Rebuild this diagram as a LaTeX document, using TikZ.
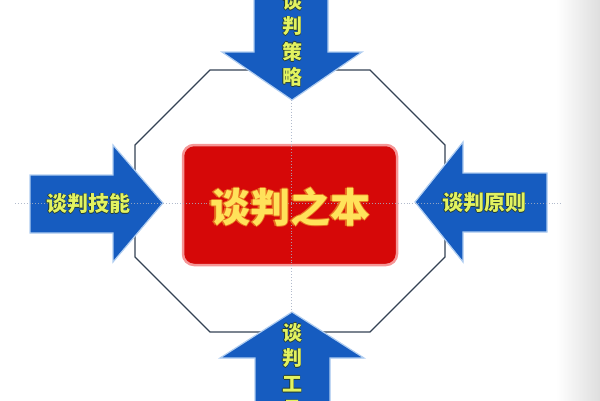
\documentclass[tikz,border=0pt]{standalone}
\usepackage{fontspec}
\setmainfont{Noto Sans CJK SC}
\definecolor{arrowblue}{RGB}{22,92,192}
\definecolor{arrowedge}{RGB}{175,205,240}
\definecolor{boxred}{RGB}{214,8,8}
\definecolor{boxglow}{RGB}{245,150,150}
\definecolor{labelyellow}{RGB}{226,242,96}
\definecolor{labeledge}{RGB}{35,60,50}
\definecolor{titleyellow}{RGB}{255,226,90}
\definecolor{titleedge}{RGB}{230,110,30}
\definecolor{octline}{RGB}{52,66,84}
\definecolor{guide}{RGB}{165,175,195}
\newcommand\olt[4]{% #1 offset, #2 outline colour, #3 fill colour, #4 text
  \leavevmode\rlap{\kern-#1\textcolor{#2}{#4}}\rlap{\kern#1\textcolor{#2}{#4}}%
  \rlap{\raisebox{#1}{\textcolor{#2}{#4}}}\rlap{\raisebox{-#1}{\textcolor{#2}{#4}}}%
  \textcolor{#3}{#4}}
\newcommand\lab[1]{\olt{0.8pt}{labeledge}{labelyellow}{#1}}
\tikzset{
  arrowshape/.style={fill=arrowblue,draw=arrowedge,line width=1.2pt,line join=miter},
  octagon/.style={draw=octline,line width=1.3pt},
  guideline/.style={draw=guide,line width=0.9pt,dotted,opacity=0.85},
  sidelabel/.style={inner sep=0pt,font=\fontsize{21}{21}\selectfont\bfseries},
  vertlabel/.style={inner sep=0pt,align=center,font=\fontsize{20}{25.5}\selectfont\bfseries},
  corebox/.style={fill=boxred,draw=boxglow,line width=2.5pt,rounded corners=11pt,
    minimum width=214pt,minimum height=120pt,inner sep=0pt},
}
\begin{document}
\begin{tikzpicture}[x=1pt,y=-1pt]
\useasboundingbox (0,0) rectangle (600,400);
\shade[left color=white,right color=black!13] (556,-1) rectangle (601,401);
% octagon frame
\draw[octagon] (210,70) -- (370,70) -- (445,145) -- (445,257) -- (370,332)
  -- (210,332) -- (135,257) -- (135,145) -- cycle;
% top arrow (points down)
\draw[arrowshape] (254,-10) -- (328,-10) -- (328,52) -- (362,52) -- (292,100)
  -- (222,52) -- (254,52) -- cycle;
% bottom arrow (points up)
\draw[arrowshape] (255,410) -- (330,410) -- (330,358) -- (364,358) -- (292,312)
  -- (220,358) -- (255,358) -- cycle;
% left arrow (points right)
\draw[arrowshape] (30,175) -- (113,175) -- (113,145) -- (163,203) -- (113,262)
  -- (113,233) -- (30,233) -- cycle;
% right arrow (points left)
\draw[arrowshape] (547,173) -- (463,173) -- (463,142) -- (415,202) -- (463,262)
  -- (463,232) -- (547,232) -- cycle;
% centre box
\node[corebox] (core) at (290,205) {};
% guide lines
\coordinate (gl) at (15,203);
\coordinate (gr) at (562,203);
\coordinate (gt) at (291,100);
\coordinate (gb) at (291,312);
\draw[guideline] (gl) -- (gr);
\draw[guideline] (gt) -- (gb);
% labels
\node[inner sep=0pt,font=\fontsize{40}{40}\selectfont\bfseries] (coretext) at (290,207)
  {\olt{1.3pt}{titleedge}{titleyellow}{谈判之本}};
\node[sidelabel] (skill) at (88,204) {\lab{谈判技能}};
\node[sidelabel] (principle) at (484,203) {\lab{谈判原则}};
\node[vertlabel] (strategy) at (292,39) {\lab{谈}\\\lab{判}\\\lab{策}\\\lab{略}};
\node[vertlabel] (tools) at (292,371) {\lab{谈}\\\lab{判}\\\lab{工}\\\lab{具}};
\end{tikzpicture}
\end{document}
